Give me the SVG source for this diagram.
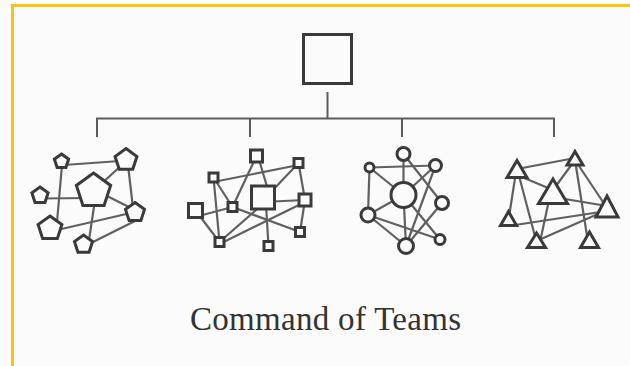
<svg xmlns="http://www.w3.org/2000/svg" width="630" height="366" viewBox="0 0 630 366">
<style>
.edge{stroke:#606060;stroke-width:2.2;fill:none;stroke-linecap:round}
.tree{stroke:#5c5c5c;stroke-width:2;fill:none}
.node{stroke:#3a3a3a;stroke-width:3;fill:#fbfbfc;stroke-linejoin:miter}
.border{stroke:#fbc30d;stroke-width:3;fill:none}
.title{font-family:"Liberation Serif","Times New Roman",serif;font-size:33px;fill:#333}
</style>
<rect x="0" y="0" width="630" height="366" fill="#fbfbfc"/>
<path class="border" d="M12.5,366 V5.5 H630"/>

<g id="connectors">
  <path class="tree" d="M327.5,92 V118.5 M97,137 V118.5 H554 V137 M250,118.5 V137 M402,118.5 V137"/>
  <!-- team 1 -->
  <line class="edge" x1="64" y1="165" x2="120" y2="161"/>
  <line class="edge" x1="62" y1="165" x2="57" y2="222"/>
  <line class="edge" x1="40" y1="198.5" x2="90" y2="198"/>
  <line class="edge" x1="100" y1="185" x2="124" y2="163"/>
  <line class="edge" x1="128" y1="165" x2="133" y2="208"/>
  <line class="edge" x1="105" y1="195" x2="135" y2="210"/>
  <line class="edge" x1="55" y1="230.5" x2="135" y2="212"/>
  <line class="edge" x1="95" y1="200" x2="89" y2="240"/>
  <line class="edge" x1="85" y1="246" x2="137" y2="220"/>
  <!-- team 2 -->
  <line class="edge" x1="213.5" y1="182" x2="298.5" y2="165"/>
  <line class="edge" x1="256.5" y1="156" x2="232.5" y2="207"/>
  <line class="edge" x1="258" y1="156" x2="268" y2="190"/>
  <line class="edge" x1="298.5" y1="163" x2="272" y2="191"/>
  <line class="edge" x1="298.5" y1="163" x2="305" y2="200"/>
  <line class="edge" x1="213.5" y1="177.5" x2="232.5" y2="207"/>
  <line class="edge" x1="213.5" y1="177.5" x2="219.5" y2="242"/>
  <line class="edge" x1="195" y1="217" x2="232.5" y2="207"/>
  <line class="edge" x1="195.5" y1="210.5" x2="219.5" y2="242"/>
  <line class="edge" x1="232.5" y1="207" x2="300" y2="232"/>
  <line class="edge" x1="262" y1="202" x2="305" y2="200"/>
  <line class="edge" x1="219.5" y1="242" x2="256" y2="210"/>
  <line class="edge" x1="219.5" y1="244" x2="305" y2="202"/>
  <line class="edge" x1="266" y1="205" x2="268.5" y2="246"/>
  <line class="edge" x1="305" y1="200" x2="300" y2="232"/>
  <!-- team 3 -->
  <line class="edge" x1="369.5" y1="167.5" x2="435.5" y2="165.5"/>
  <line class="edge" x1="369.5" y1="167.5" x2="368" y2="215"/>
  <line class="edge" x1="369.5" y1="167.5" x2="403.5" y2="195"/>
  <line class="edge" x1="403.5" y1="154" x2="403.5" y2="195"/>
  <line class="edge" x1="403.5" y1="154" x2="442" y2="203"/>
  <line class="edge" x1="435.5" y1="165.5" x2="403.5" y2="195"/>
  <line class="edge" x1="435.5" y1="165.5" x2="406" y2="246"/>
  <line class="edge" x1="403.5" y1="195" x2="440" y2="239.5"/>
  <line class="edge" x1="403.5" y1="195" x2="406" y2="246"/>
  <line class="edge" x1="442" y1="203" x2="406" y2="246"/>
  <line class="edge" x1="368" y1="215" x2="440" y2="239.5"/>
  <line class="edge" x1="368" y1="215" x2="406" y2="246"/>
  <line class="edge" x1="368" y1="215" x2="403.5" y2="195"/>
  <!-- team 4 -->
  <line class="edge" x1="517" y1="169" x2="575" y2="158"/>
  <line class="edge" x1="517" y1="175" x2="553" y2="190"/>
  <line class="edge" x1="575" y1="160" x2="553" y2="190"/>
  <line class="edge" x1="516" y1="172" x2="508.5" y2="220"/>
  <line class="edge" x1="518" y1="172" x2="536.5" y2="242"/>
  <line class="edge" x1="575" y1="160" x2="607" y2="208"/>
  <line class="edge" x1="575" y1="160" x2="588" y2="242"/>
  <line class="edge" x1="553" y1="197" x2="607" y2="206"/>
  <line class="edge" x1="508.5" y1="226" x2="607" y2="211"/>
  <line class="edge" x1="549" y1="200" x2="540" y2="242"/>
  <line class="edge" x1="536.5" y1="241" x2="607" y2="210"/>
</g>

<g id="commander"><rect class="node" x="303.5" y="34.5" width="48" height="49"/></g>

<g id="team1">
  <polygon class="node" points="61.5,154 68.63,159.18 65.91,167.57 57.09,167.57 54.37,159.18"/>
  <polygon class="node" points="126,148.5 136.94,156.45 132.76,169.3 119.24,169.3 115.06,156.45"/>
  <polygon class="node" points="93.5,173 110.62,185.44 104.08,205.56 82.92,205.56 76.38,185.44"/>
  <polygon class="node" points="40,187 48.08,192.87 45,202.38 35,202.38 31.92,192.87"/>
  <polygon class="node" points="135,202.5 144.51,209.41 140.88,220.59 129.12,220.59 125.49,209.41"/>
  <polygon class="node" points="50,216 61.89,224.64 57.35,238.61 42.65,238.61 38.11,224.64"/>
  <polygon class="node" points="83.5,235 92.53,241.56 89.08,252.19 77.92,252.19 74.47,241.56"/>
</g>

<g id="team2">
  <rect class="node" x="250.5" y="150" width="12" height="12"/>
  <rect class="node" x="294" y="158.5" width="9" height="9"/>
  <rect class="node" x="209" y="173" width="9" height="9"/>
  <rect class="node" x="251.5" y="186" width="23" height="23"/>
  <rect class="node" x="299" y="194" width="12" height="12"/>
  <rect class="node" x="188.5" y="203.5" width="14" height="14"/>
  <rect class="node" x="228" y="202.5" width="9" height="9"/>
  <rect class="node" x="295.5" y="227.5" width="9" height="9"/>
  <rect class="node" x="215" y="237.5" width="9" height="9"/>
  <rect class="node" x="264" y="241.5" width="9" height="9"/>
</g>

<g id="team3">
  <circle class="node" cx="403.5" cy="154" r="6.5"/>
  <circle class="node" cx="369.5" cy="167.5" r="4.5"/>
  <circle class="node" cx="435.5" cy="165.5" r="6"/>
  <circle class="node" cx="403.5" cy="195" r="12.5"/>
  <circle class="node" cx="442" cy="203" r="6.5"/>
  <circle class="node" cx="368" cy="215" r="7"/>
  <circle class="node" cx="440" cy="239.5" r="5"/>
  <circle class="node" cx="406" cy="246" r="7.5"/>
</g>

<g id="team4">
  <polygon class="node" points="517,160.5 527,177.5 507,177.5"/>
  <polygon class="node" points="575,151.5 583,165 567,165"/>
  <polygon class="node" points="553,179 567.5,203.5 538.5,203.5"/>
  <polygon class="node" points="607,196 618,217 596,217"/>
  <polygon class="node" points="508.5,211.5 516.5,225.5 500.5,225.5"/>
  <polygon class="node" points="536.5,233 545.5,247.5 527.5,247.5"/>
  <polygon class="node" points="589.5,232 598.5,247.5 580.5,247.5"/>
</g>

<text class="title" x="190" y="330" textLength="271">Command of Teams</text>
</svg>
